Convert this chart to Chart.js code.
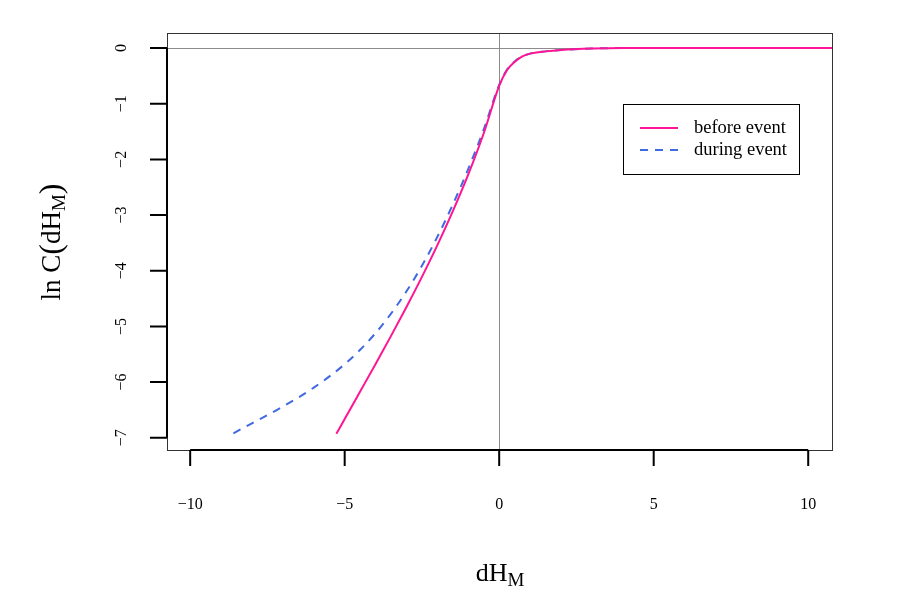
<!DOCTYPE html>
<html>
<head>
<meta charset="utf-8">
<script src="https://cdn.jsdelivr.net/npm/chart.js@4/dist/chart.umd.min.js"></script>
<style>
  body { margin: 0; background: #fff; }
  #wrap { width: 900px; height: 600px; }
</style>
</head>
<body>
<div id="wrap"><canvas id="chart" width="900" height="600"></canvas></div>
<script>
// values
const beforeX = [-5.27, -5, -4.5, -4, -3.5, -3, -2.5, -2, -1.5, -1, -0.5, 0, 0.25, 0.5, 0.75, 1, 1.5, 2, 3, 4, 6, 8, 10.8];
const beforeY = [-6.93, -6.665, -6.17, -5.675, -5.17, -4.65, -4.11, -3.54, -2.93, -2.27, -1.53, -0.68, -0.4, -0.25, -0.15, -0.1, -0.06, -0.035, -0.01, 0, 0, 0, 0];
const duringX = [-8.6, -8, -7, -6, -5, -4.5, -4, -3.5, -3, -2.5, -2, -1.5, -1, -0.5, 0, 0.25, 0.5, 0.75, 1, 1.5, 2, 3, 4, 6, 8, 10.8];
const duringY = [-6.92, -6.74, -6.44, -6.1, -5.68, -5.42, -5.12, -4.77, -4.37, -3.91, -3.39, -2.81, -2.17, -1.46, -0.66, -0.39, -0.24, -0.15, -0.1, -0.06, -0.035, -0.01, 0, 0, 0, 0];
const xTicks = [-10, -5, 0, 5, 10];
const yTicks = [0, -1, -2, -3, -4, -5, -6, -7];
const seriesNames = ['before event', 'during event'];

const toPoints = (xs, ys) => xs.map((x, i) => ({ x: x, y: ys[i] }));
const fmt = v => (v < 0 ? '\u2212' + Math.abs(v) : String(v));
const serif = '"Liberation Serif", serif';

// R style axes, reference lines and legend
const rAxes = {
  id: 'rAxes',
  beforeDatasetsDraw(chart) {
    const { ctx, chartArea: a, scales: { x, y } } = chart;
    ctx.save();
    ctx.strokeStyle = '#8c8c8c';
    ctx.lineWidth = 1;
    ctx.beginPath();
    ctx.moveTo(a.left, Math.round(y.getPixelForValue(0)) + 0.5);
    ctx.lineTo(a.right, Math.round(y.getPixelForValue(0)) + 0.5);
    ctx.moveTo(Math.round(x.getPixelForValue(0)) + 0.5, a.top);
    ctx.lineTo(Math.round(x.getPixelForValue(0)) + 0.5, a.bottom);
    ctx.stroke();
    ctx.restore();
  },
  afterDraw(chart) {
    const { ctx, chartArea: a, scales: { x, y } } = chart;
    ctx.save();
    // box
    ctx.strokeStyle = '#333';
    ctx.lineWidth = 1;
    ctx.strokeRect(a.left + 0.5, a.top + 0.5, a.right - a.left, a.bottom - a.top);

    ctx.strokeStyle = '#000';
    ctx.lineWidth = 2;
    ctx.fillStyle = '#000';
    ctx.font = '16px ' + serif;

    // x axis
    const x0 = x.getPixelForValue(xTicks[0]);
    const x1 = x.getPixelForValue(xTicks[xTicks.length - 1]);
    ctx.beginPath();
    ctx.moveTo(x0, a.bottom);
    ctx.lineTo(x1, a.bottom);
    xTicks.forEach(t => {
      const px = x.getPixelForValue(t);
      ctx.moveTo(px, a.bottom);
      ctx.lineTo(px, a.bottom + 16);
    });
    ctx.stroke();
    ctx.textAlign = 'center';
    ctx.textBaseline = 'middle';
    xTicks.forEach(t => ctx.fillText(fmt(t), x.getPixelForValue(t), 505));

    // y axis
    const y0 = y.getPixelForValue(yTicks[0]);
    const y1 = y.getPixelForValue(yTicks[yTicks.length - 1]);
    ctx.beginPath();
    ctx.moveTo(a.left, y0);
    ctx.lineTo(a.left, y1);
    yTicks.forEach(t => {
      const py = y.getPixelForValue(t);
      ctx.moveTo(a.left, py);
      ctx.lineTo(a.left - 17, py);
    });
    ctx.stroke();
    yTicks.forEach(t => {
      ctx.save();
      ctx.translate(122, y.getPixelForValue(t));
      ctx.rotate(-Math.PI / 2);
      ctx.fillText(fmt(t), 0, 0);
      ctx.restore();
    });

    // axis titles with subscript M
    const drawTitle = (cx, cy, rot, pieces) => {
      ctx.save();
      ctx.translate(cx, cy);
      ctx.rotate(rot);
      ctx.textAlign = 'left';
      ctx.textBaseline = 'alphabetic';
      let total = 0;
      pieces.forEach(p => { ctx.font = p.size + 'px ' + serif; total += ctx.measureText(p.text).width; });
      let sx = -total / 2;
      pieces.forEach(p => {
        ctx.font = p.size + 'px ' + serif;
        ctx.fillText(p.text, sx, p.dy);
        sx += ctx.measureText(p.text).width;
      });
      ctx.restore();
    };
    drawTitle(500, 581, 0, [{ text: 'dH', size: 26, dy: 0 }, { text: 'M', size: 19, dy: 5 }]);
    drawTitle(60, 242, -Math.PI / 2, [
      { text: 'ln C', size: 27, dy: 0 },
      { text: '(', size: 32, dy: 1 },
      { text: 'dH', size: 27, dy: 0 },
      { text: 'M', size: 19, dy: 5 },
      { text: ')', size: 32, dy: 1 }
    ]);

    // legend
    ctx.lineWidth = 1;
    ctx.strokeStyle = '#000';
    ctx.strokeRect(623.5, 104.5, 176, 70);
    ctx.font = '18.5px ' + serif;
    ctx.textAlign = 'left';
    ctx.textBaseline = 'middle';
    chart.data.datasets.forEach((ds, i) => {
      const ly = 128 + i * 22;
      ctx.strokeStyle = ds.borderColor;
      ctx.lineWidth = 2;
      ctx.setLineDash(ds.borderDash || []);
      ctx.beginPath();
      ctx.moveTo(640, ly);
      ctx.lineTo(678, ly);
      ctx.stroke();
      ctx.setLineDash([]);
      ctx.fillText(ds.label, 694, ly);
    });
    ctx.restore();
  }
};

new Chart(document.getElementById('chart'), {
  type: 'line',
  data: {
    datasets: [
      {
        label: seriesNames[0],
        data: toPoints(beforeX, beforeY),
        borderColor: '#FF1493',
        borderWidth: 2,
        pointRadius: 0,
        cubicInterpolationMode: 'monotone'
      },
      {
        label: seriesNames[1],
        data: toPoints(duringX, duringY),
        borderColor: '#4169E1',
        borderWidth: 2,
        borderDash: [8, 7],
        pointRadius: 0,
        cubicInterpolationMode: 'monotone'
      }
    ]
  },
  options: {
    responsive: false,
    animation: false,
    layout: { padding: { left: 167, right: 68, top: 33, bottom: 150 } },
    scales: {
      x: { type: 'linear', min: -10.75, max: 10.77, display: false },
      y: { type: 'linear', min: -7.22, max: 0.27, display: false }
    },
    plugins: {
      legend: { display: false },
      tooltip: { enabled: false }
    }
  },
  plugins: [rAxes]
});
</script>
</body>
</html>
